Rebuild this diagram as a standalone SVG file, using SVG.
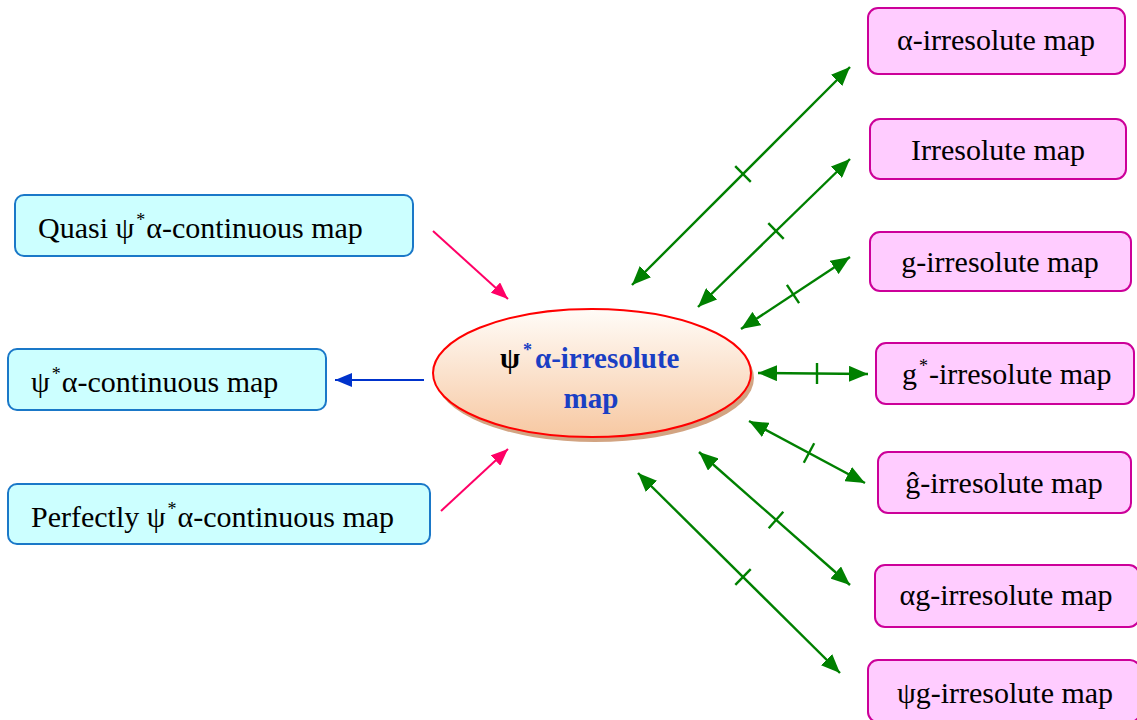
<svg xmlns="http://www.w3.org/2000/svg" width="1137" height="720" viewBox="0 0 1137 720">
<style>
  .txt{font-family:"Liberation Serif","Times New Roman",serif;font-size:30px;fill:#000}
  .sup{font-size:18px}
  .lbox{fill:#ccffff;stroke:#1a78c8;stroke-width:2}
  .rbox{fill:#ffccff;stroke:#cc0099;stroke-width:2}
  .green{stroke:#008000;stroke-width:2.4;fill:none}
  .tick{stroke:#008000;stroke-width:2.4}
  .ctr{font-family:"Liberation Serif","Times New Roman",serif;font-size:29px;font-weight:bold;fill:#1a3fc4}
</style>
<defs>
  <marker id="ag" markerUnits="userSpaceOnUse" markerWidth="20" markerHeight="16" refX="19" refY="8" orient="auto-start-reverse">
    <path d="M0,0 L19,8 L0,16 Z" fill="#008000"/>
  </marker>
  <marker id="ap" markerUnits="userSpaceOnUse" markerWidth="18" markerHeight="14" refX="17" refY="7" orient="auto">
    <path d="M0,0 L17,7 L0,14 Z" fill="#ff0066"/>
  </marker>
  <marker id="ab" markerUnits="userSpaceOnUse" markerWidth="18" markerHeight="14" refX="17" refY="7" orient="auto">
    <path d="M0,0 L17,7 L0,14 Z" fill="#0033cc"/>
  </marker>
  <linearGradient id="eg" x1="0" y1="0" x2="0" y2="1">
    <stop offset="0" stop-color="#fffcf8"/>
    <stop offset="1" stop-color="#f7c8a2"/>
  </linearGradient>
</defs>

<g id="connectors">
  <line x1="433" y1="231" x2="508" y2="299" stroke="#ff0066" stroke-width="2" marker-end="url(#ap)"/>
  <line x1="424" y1="380" x2="335" y2="380" stroke="#0033cc" stroke-width="2" marker-end="url(#ab)"/>
  <line x1="441" y1="511" x2="508" y2="449" stroke="#ff0066" stroke-width="2" marker-end="url(#ap)"/>

  <line class="green" x1="632" y1="285" x2="850" y2="67" marker-start="url(#ag)" marker-end="url(#ag)"/>
  <line class="tick" x1="735.2" y1="166.2" x2="750.8" y2="181.8"/>
  <line class="green" x1="698" y1="307" x2="850" y2="159" marker-start="url(#ag)" marker-end="url(#ag)"/>
  <line class="tick" x1="768.3" y1="223.1" x2="783.7" y2="238.9"/>
  <line class="green" x1="741" y1="329" x2="850" y2="257" marker-start="url(#ag)" marker-end="url(#ag)"/>
  <line class="tick" x1="786.9" y1="284.8" x2="799.1" y2="303.2"/>
  <line class="green" x1="758" y1="373" x2="868" y2="374" marker-start="url(#ag)" marker-end="url(#ag)"/>
  <line class="tick" x1="817" y1="363" x2="817" y2="384"/>
  <line class="green" x1="749" y1="421" x2="865" y2="483" marker-start="url(#ag)" marker-end="url(#ag)"/>
  <line class="tick" x1="814.2" y1="443.3" x2="803.8" y2="462.7"/>
  <line class="green" x1="699" y1="452" x2="850" y2="585" marker-start="url(#ag)" marker-end="url(#ag)"/>
  <line class="tick" x1="783.3" y1="511.7" x2="768.7" y2="528.3"/>
  <line class="green" x1="638" y1="473" x2="840" y2="673" marker-start="url(#ag)" marker-end="url(#ag)"/>
  <line class="tick" x1="750.7" y1="569.2" x2="735.3" y2="584.8"/>
</g>

<g id="center">
  <ellipse cx="595" cy="378" rx="159" ry="64" fill="#d2a482"/>
  <ellipse cx="592" cy="373" rx="159" ry="64" fill="url(#eg)" stroke="#ff0000" stroke-width="2"/>
  <text class="ctr" x="500" y="368"><tspan fill="#000">ψ</tspan><tspan class="sup" dy="-12" dx="3">*</tspan><tspan dy="12" dx="3">α-irresolute</tspan></text>
  <text class="ctr" x="591" y="408" text-anchor="middle">map</text>
</g>

<g id="quasi">
  <rect class="lbox" x="15" y="195" width="398" height="61" rx="9"/>
  <text class="txt" x="38" y="238">Quasi ψ<tspan class="sup" dy="-12" dx="2">*</tspan><tspan dy="12" dx="1">α-continuous map</tspan></text>
</g>
<g id="psi-cont">
  <rect class="lbox" x="8" y="349" width="318" height="61" rx="9"/>
  <text class="txt" x="31" y="392">ψ<tspan class="sup" dy="-12" dx="2">*</tspan><tspan dy="12" dx="1">α-continuous map</tspan></text>
</g>
<g id="perfectly">
  <rect class="lbox" x="8" y="484" width="422" height="60" rx="9"/>
  <text class="txt" x="31" y="527">Perfectly ψ<tspan class="sup" dy="-12" dx="2">*</tspan><tspan dy="12" dx="1">α-continuous map</tspan></text>
</g>

<g id="alpha-irr">
  <rect class="rbox" x="868" y="8" width="257" height="66" rx="10"/>
  <text class="txt" x="996" y="50" text-anchor="middle">α-irresolute map</text>
</g>
<g id="irr">
  <rect class="rbox" x="870" y="119" width="256" height="60" rx="10"/>
  <text class="txt" x="998" y="160" text-anchor="middle">Irresolute map</text>
</g>
<g id="g-irr">
  <rect class="rbox" x="870" y="232" width="261" height="59" rx="10"/>
  <text class="txt" x="1000" y="272" text-anchor="middle">g-irresolute map</text>
</g>
<g id="gstar-irr">
  <rect class="rbox" x="876" y="343" width="258" height="61" rx="10"/>
  <text class="txt" x="902" y="384">g<tspan class="sup" dy="-12" dx="2">*</tspan><tspan dy="12" dx="1">-irresolute map</tspan></text>
</g>
<g id="ghat-irr">
  <rect class="rbox" x="878" y="452" width="253" height="61" rx="10"/>
  <text class="txt" x="1004" y="493" text-anchor="middle">ĝ-irresolute map</text>
</g>
<g id="alphag-irr">
  <rect class="rbox" x="875" y="565" width="264" height="62" rx="10"/>
  <text class="txt" x="1006" y="605" text-anchor="middle">αg-irresolute map</text>
</g>
<g id="psig-irr">
  <rect class="rbox" x="868" y="660" width="272" height="62" rx="10"/>
  <text class="txt" x="1005" y="703" text-anchor="middle">ψg-irresolute map</text>
</g>
</svg>
